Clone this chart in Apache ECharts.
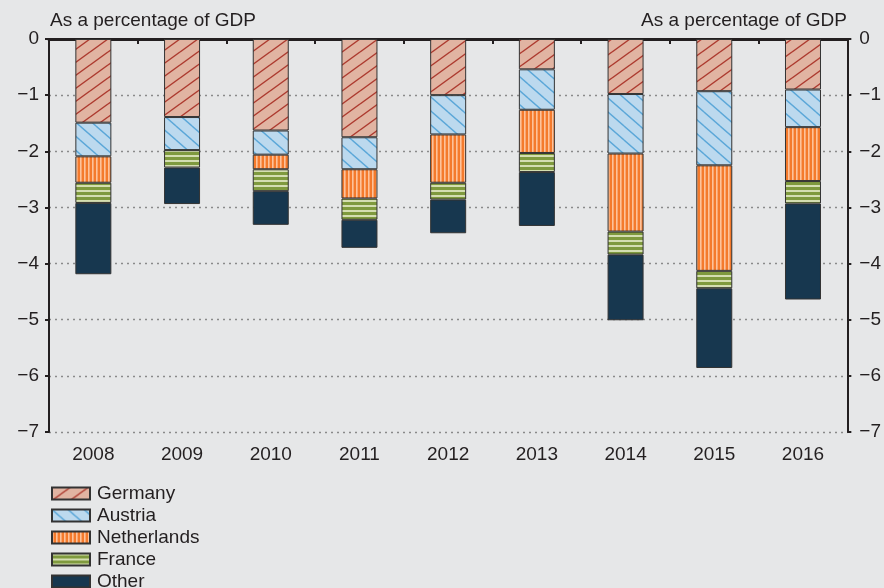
<!DOCTYPE html>
<html>
<head>
<meta charset="utf-8">
<script src="https://cdn.jsdelivr.net/npm/echarts@6/dist/echarts.min.js"></script>
<style>
  html, body { margin: 0; padding: 0; background: #e6e7e8; }
  #chart { width: 884px; height: 588px; }
</style>
</head>
<body>
<div id="chart"></div>
<script>
// categories and stacked shares (% of GDP)
const years = ['2008', '2009', '2010', '2011', '2012', '2013', '2014', '2015', '2016'];
const germany = [-1.49, -1.39, -1.63, -1.75, -1.00, -0.54, -0.98, -0.93, -0.90];
const austria = [-0.60, -0.59, -0.43, -0.57, -0.70, -0.72, -1.06, -1.32, -0.67];
const netherlands = [-0.47, 0, -0.26, -0.52, -0.86, -0.77, -1.39, -1.88, -0.96];
const france = [-0.36, -0.31, -0.39, -0.38, -0.30, -0.34, -0.41, -0.31, -0.40];
const other = [-1.27, -0.65, -0.60, -0.50, -0.60, -0.96, -1.17, -1.42, -1.71];
const yMin = -7;
const yMax = 0;
const axisName = 'As a percentage of GDP';

const TEXT = '#231f20';
const FONT = 'Liberation Sans';
const FS = 19;

// small canvas tiles used as repeating fills
function hatch(bg, fg, w, h, dir) {
  const c = document.createElement('canvas');
  c.width = w; c.height = h;
  const ctx = c.getContext('2d');
  ctx.fillStyle = bg;
  ctx.fillRect(0, 0, w, h);
  ctx.strokeStyle = fg;
  ctx.lineWidth = 1.4;
  const offs = [[0, 0], [w, 0], [-w, 0], [0, h], [0, -h]];
  offs.forEach(function (o) {
    ctx.beginPath();
    if (dir === '/') {
      ctx.moveTo(o[0], h + o[1]);
      ctx.lineTo(w + o[0], o[1]);
    } else {
      ctx.moveTo(o[0], o[1]);
      ctx.lineTo(w + o[0], h + o[1]);
    }
    ctx.stroke();
  });
  return { image: c, repeat: 'repeat' };
}

function stripes(bg, fg, size, band, vertical) {
  const c = document.createElement('canvas');
  c.width = vertical ? size : 8;
  c.height = vertical ? 8 : size;
  const ctx = c.getContext('2d');
  ctx.fillStyle = bg;
  ctx.fillRect(0, 0, c.width, c.height);
  ctx.fillStyle = fg;
  if (vertical) ctx.fillRect(0, 0, band, c.height);
  else ctx.fillRect(0, 0, c.width, band);
  return { image: c, repeat: 'repeat' };
}

const fills = {
  Germany: hatch('#e1b4a2', '#ad3a2f', 18, 13, '/'),
  Austria: hatch('#bcd9ee', '#5ba7d8', 16, 14, '\\'),
  Netherlands: stripes('#f47a2c', '#fdc29a', 4, 1.6, true),
  France: stripes('#7f9a3e', '#d4deb1', 5, 2, false),
  Other: '#17374f'
};

const seriesData = [
  ['Germany', germany],
  ['Austria', austria],
  ['Netherlands', netherlands],
  ['France', france],
  ['Other', other]
];

function minus(v) {
  return v < 0 ? '\u2212' + Math.abs(v) : String(v);
}

const yAxisBase = {
  type: 'value',
  min: yMin,
  max: yMax,
  interval: 1,
  axisLine: { show: true, lineStyle: { color: TEXT, width: 2 } },
  axisTick: { show: true, length: 4, lineStyle: { color: TEXT, width: 2 } },
  axisLabel: { color: TEXT, fontSize: FS, fontFamily: FONT, formatter: minus }
};

const chart = echarts.init(document.getElementById('chart'));

const titleStyle = { color: TEXT, fontSize: FS, fontWeight: 'normal', fontFamily: FONT };

const option = {
  backgroundColor: '#e6e7e8',
  animation: false,
  title: [
    { text: axisName, left: 45, top: 6, textStyle: titleStyle },
    { text: axisName, right: 32, top: 6, textStyle: titleStyle }
  ],
  grid: { left: 49, right: 35, top: 39, bottom: 156 },
  legend: {
    orient: 'vertical',
    left: 51,
    top: 484,
    padding: 0,
    height: 120,
    icon: 'rect',
    itemWidth: 38,
    itemHeight: 12,
    itemGap: 3,
    textStyle: { color: TEXT, fontSize: FS, fontFamily: FONT, lineHeight: 19, padding: [0, 0, 0, 2] },
    data: seriesData.map(function (s) { return s[0]; })
  },
  xAxis: [{
    type: 'category',
    data: years,
    position: 'bottom',
    axisLine: { show: false },
    axisTick: { show: false },
    axisLabel: { color: TEXT, fontSize: FS, fontFamily: FONT, margin: 13 }
  }, {
    type: 'category',
    data: years,
    position: 'top',
    axisLine: { show: true, lineStyle: { color: TEXT, width: 3 } },
    axisTick: { show: true, inside: true, length: 5, lineStyle: { color: TEXT, width: 2 } },
    axisLabel: { show: false }
  }],
  yAxis: [
    Object.assign({}, yAxisBase, {
      position: 'left',
      splitLine: { show: true, lineStyle: { color: '#8a8a8a', width: 1.3, type: [2, 4] } },
      axisLabel: Object.assign({}, yAxisBase.axisLabel, { margin: 10 })
    }),
    Object.assign({}, yAxisBase, {
      position: 'right',
      splitLine: { show: false },
      axisLabel: Object.assign({}, yAxisBase.axisLabel, { margin: 12 })
    })
  ],
  series: seriesData.map(function (s) {
    return {
      name: s[0],
      type: 'bar',
      stack: 'total',
      barWidth: 36,
      xAxisIndex: 0,
      yAxisIndex: 0,
      data: s[1],
      itemStyle: { color: fills[s[0]], borderColor: '#333333', borderWidth: 1 }
    };
  })
};

chart.setOption(option);
</script>
</body>
</html>
